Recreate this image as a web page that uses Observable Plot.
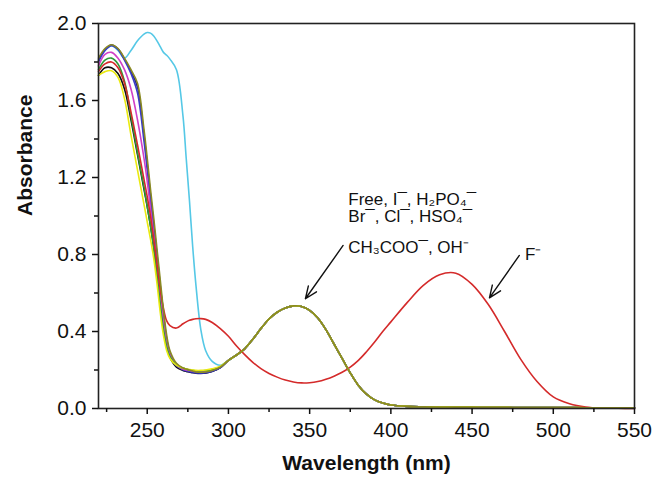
<!DOCTYPE html>
<html><head><meta charset="utf-8">
<script src="https://cdn.jsdelivr.net/npm/d3@7"></script>
<script src="https://cdn.jsdelivr.net/npm/@observablehq/plot@0.6"></script>
<style>body{margin:0;background:#fff}</style>
</head><body><div id="chart"></div>
<script>
// Wavelength grid (nm)
const wavelengths = [220,224,228,232,236,240,244,248,250,252,254,256,258,260,262,264,268,272,274,276,278,280,283,286,290,295,
  300,305,310,315,320,325,330,335,340,345,350,355,360,365,370,375,380,385,390,395,400,410,420,430,440,450,460,470,480,490,500,510,520,530,540,550];

// Series (Origin default palette order), drawn back to front
const seriesNames  = ["Free", "Cyan-series", "Navy", "Blue", "Magenta", "Green", "F⁻", "Yellow", "DarkYellow"];
const seriesColors = ["#111111", "#55c8e6", "#262680", "#3a3ac8", "#d040c8", "#2e9a3a", "#d42a2a", "#eaea10", "#8a8a22"];

// Head values 220–295 nm
const blackHead   = [1.73,1.77,1.77,1.74,1.66,1.50,1.32,1.14,1.05,0.95,0.84,0.70,0.55,0.42,0.32,0.265,0.215,0.198,0.193,0.19,0.187,0.185,0.183,0.185,0.193,0.212];
const cyanHead    = [1.81,1.86,1.885,1.86,1.82,1.86,1.91,1.945,1.953,1.95,1.935,1.91,1.88,1.85,1.835,1.815,1.76,1.52,1.30,1.08,0.84,0.64,0.41,0.30,0.245,0.225];
const navyHead    = [1.81,1.865,1.888,1.868,1.815,1.75,1.67,1.42,1.27,1.11,0.96,0.80,0.64,0.49,0.36,0.29,0.225,0.2,0.195,0.19,0.186,0.183,0.182,0.184,0.192,0.212];
const blueHead    = [1.80,1.86,1.885,1.865,1.81,1.74,1.64,1.39,1.24,1.08,0.93,0.77,0.61,0.46,0.34,0.28,0.222,0.203,0.198,0.194,0.19,0.187,0.185,0.187,0.195,0.213];
const magentaHead = [1.78,1.84,1.85,1.82,1.76,1.66,1.50,1.30,1.18,1.04,0.90,0.75,0.59,0.45,0.34,0.28,0.225,0.205,0.2,0.197,0.194,0.192,0.19,0.192,0.2,0.215];
const greenHead   = [1.76,1.81,1.82,1.79,1.70,1.52,1.33,1.15,1.05,0.95,0.83,0.69,0.54,0.41,0.32,0.27,0.225,0.21,0.205,0.2,0.198,0.196,0.195,0.197,0.202,0.216];
const fluorideHead= [1.75,1.79,1.80,1.77,1.69,1.54,1.37,1.19,1.10,1.00,0.88,0.75,0.62,0.52,0.455,0.43,0.418,0.44,0.45,0.458,0.463,0.466,0.467,0.463,0.447,0.415];
const yellowHead  = [1.73,1.75,1.755,1.72,1.61,1.42,1.24,1.06,0.97,0.88,0.78,0.65,0.50,0.38,0.30,0.26,0.225,0.21,0.205,0.202,0.2,0.198,0.198,0.2,0.206,0.22];
const oliveHead   = [1.82,1.87,1.89,1.87,1.82,1.76,1.69,1.45,1.30,1.14,0.99,0.83,0.67,0.51,0.38,0.30,0.235,0.21,0.205,0.2,0.195,0.19,0.188,0.19,0.197,0.215];

// Tail values 300–550 nm
const clusterTail  = [0.25,0.278,0.31,0.36,0.415,0.465,0.50,0.522,0.533,0.53,0.51,0.47,0.41,0.335,0.26,0.185,0.12,0.075,0.045,0.028,
  0.018,0.011,0.009,0.008,0.007,0.007,0.006,0.006,0.005,0.005,0.005,0.005,0.004,0.004,0.004,0.004];
const fluorideTail = [0.375,0.325,0.28,0.24,0.207,0.182,0.163,0.148,0.138,0.133,0.134,0.14,0.152,0.168,0.188,0.215,0.25,0.295,0.345,0.40,
  0.45,0.55,0.64,0.695,0.703,0.645,0.54,0.40,0.255,0.14,0.06,0.025,0.008,0.002,0.001,0.0];

const heads = [blackHead, cyanHead, navyHead, blueHead, magentaHead, greenHead, fluorideHead, yellowHead, oliveHead];
const tails = [clusterTail, clusterTail, clusterTail, clusterTail, clusterTail, clusterTail, fluorideTail, clusterTail, clusterTail];

// Ticks
const xMajor = [250,300,350,400,450,500,550];
const xMinor = [225,275,325,375,425,475,525];
const yMajor = [0,0.4,0.8,1.2,1.6,2.0];
const yMinor = [0.2,0.6,1.0,1.4,1.8];

// Annotations
const annText = ["Free, I¯, H₂PO₄¯", "Br¯, Cl¯, HSO₄¯", "CH₃COO¯, OH⁻", "F⁻"];
const annX    = [373.8, 373.8, 373.8, 482.6];
const annY    = [1.087, 0.996, 0.838, 0.80];
const arrowX1 = [370.6, 479.1];
const arrowY1 = [0.847, 0.795];
const arrowX2 = [347.4, 460.7];
const arrowY2 = [0.570, 0.575];

const lineMarks = seriesNames.map((name, i) => {
  const vals = heads[i].concat(tails[i]);
  const data = vals.map((v, j) => ({x: wavelengths[j], y: v}));
  return Plot.line(data, {x: "x", y: "y", stroke: seriesColors[i], strokeWidth: 1.6, curve: "catmull-rom"});
});

const annRows = annText.map((t, i) => ({t, x: annX[i], y: annY[i]}));
const arrowRows = arrowX1.map((d, i) => ({x1: arrowX1[i], y1: arrowY1[i], x2: arrowX2[i], y2: arrowY2[i]}));

const chart = Plot.plot({
  width: 655,
  height: 481,
  marginLeft: 98,
  marginRight: 21,
  marginTop: 23,
  marginBottom: 73,
  style: {fontFamily: "'Liberation Sans', Arial, sans-serif", fontSize: "21px", background: "white", color: "#111"},
  x: {domain: [220, 550]},
  y: {domain: [0, 2]},
  marks: [
    ...lineMarks,
    Plot.frame({stroke: "#222", strokeWidth: 1.6}),
    Plot.axisX({ticks: xMajor, tickSize: 6, tickPadding: 8, strokeWidth: 1.5, label: null, fontSize: 21}),
    Plot.axisX({ticks: xMinor, tickSize: 4, tickFormat: () => "", strokeWidth: 1.5, label: null}),
    Plot.axisY({ticks: yMajor, tickSize: 6, tickPadding: 6, strokeWidth: 1.5, tickFormat: d3.format(".1f"), label: null, fontSize: 21}),
    Plot.axisY({ticks: yMinor, tickSize: 4, tickFormat: () => "", strokeWidth: 1.5, label: null}),
    Plot.text(["Absorbance"], {frameAnchor: "left", rotate: -90, dx: -73, fontWeight: "bold", fontSize: 21}),
    Plot.text(["Wavelength (nm)"], {frameAnchor: "bottom", dy: 61, fontWeight: "bold", fontSize: 21}),
    Plot.text(annRows, {x: "x", y: "y", text: "t", textAnchor: "start", fontSize: 17, fill: "#111"}),
    Plot.arrow(arrowRows, {x1: "x1", y1: "y1", x2: "x2", y2: "y2", stroke: "#111", strokeWidth: 1.4, headLength: 14, headAngle: 45})
  ]
});
document.getElementById("chart").append(chart);
</script>
</body></html>
